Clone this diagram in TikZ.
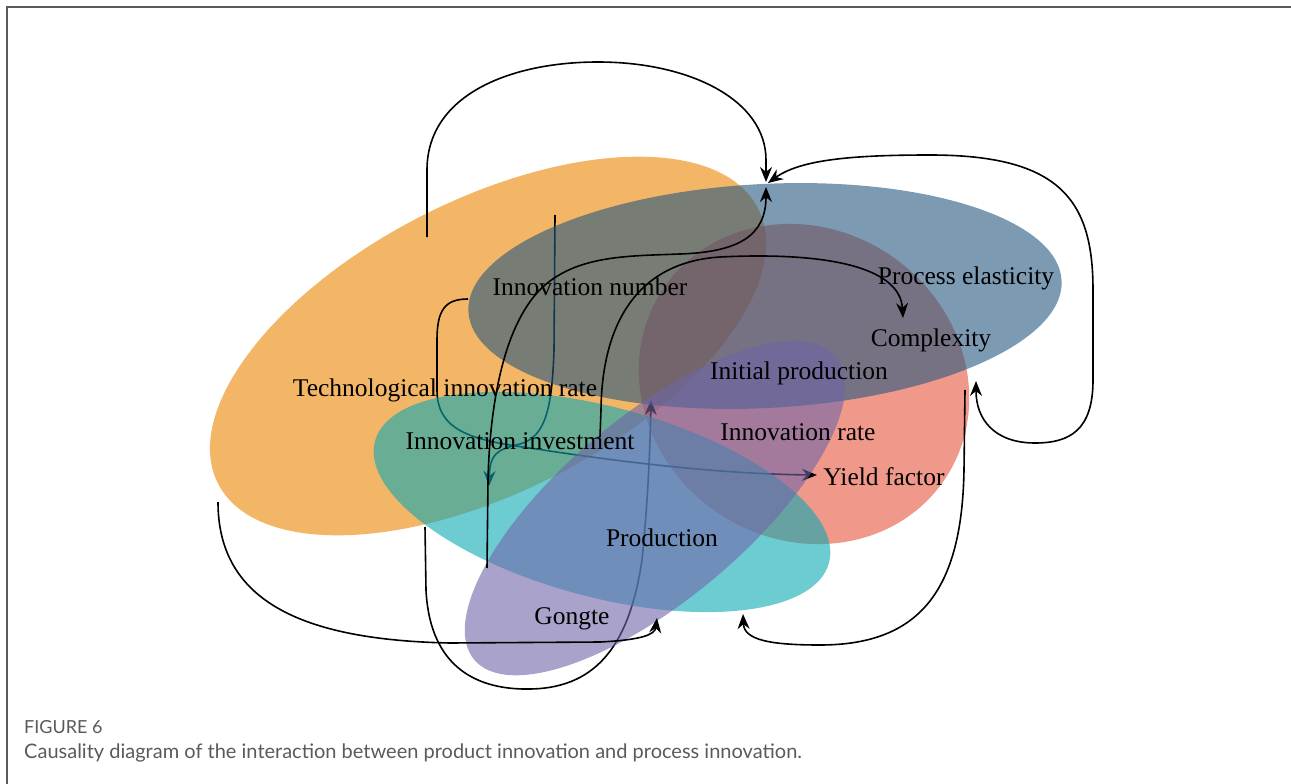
\documentclass[tikz,border=0pt]{standalone}
\usepackage{fontspec}
\setmainfont{Liberation Serif}
\newfontfamily\capfont{Lato}
\usetikzlibrary{arrows.meta}

\definecolor{techorange}{HTML}{EB8400}
\definecolor{procblue}{HTML}{255880}
\definecolor{ratered}{HTML}{E6553C}
\definecolor{investcyan}{HTML}{0CA8B4}
\definecolor{prodpurple}{HTML}{7066A8}
\definecolor{framegray}{HTML}{5A5A5A}

\tikzset{
  conn/.style={line width=1.6pt, -{Stealth[length=15pt,width=12pt]}},
  blob/.style={fill opacity=0.6},
  lbl/.style={font=\fontsize{25.5}{30}\selectfont, inner sep=0pt},
}

\begin{document}
\begin{tikzpicture}[x=1pt,y=-1pt]
        \useasboundingbox (0,0) rectangle (1291,784);
        \draw[framegray, line width=1.5pt] (7,784) -- (7,7) -- (1291,7);

        % End points of the connectors
        \coordinate (topA) at (427,237);
        \coordinate (hubA) at (766,182);
        \coordinate (hubB) at (768,183);
        \coordinate (hubC) at (766,187);
        \coordinate (elast) at (976,381);
        \coordinate (footC) at (487,568);
        \coordinate (footD) at (600,437);
        \coordinate (topE) at (555,215);
        \coordinate (tipE) at (489,486);
        \coordinate (leftF) at (468,299);
        \coordinate (footG) at (425,527);
        \coordinate (tipG) at (651,400);
        \coordinate (footH) at (218,502);
        \coordinate (tipH) at (657,618);
        \coordinate (footI) at (965,390);
        \coordinate (tipI) at (743,614);

        % Orange and red sets
        \fill[techorange, blob, rotate around={27:(488,346)}] (488,346) ellipse [x radius=303pt, y radius=146pt];
        \fill[ratered, blob, rotate around={-35:(804,384)}] (804,384) ellipse [x radius=170pt, y radius=155pt];

        % Connectors lying under the sets
        \draw[conn] (topE) -- (554,350) .. controls (552,410) and (545,437) .. (520,444) .. controls (495,450) and (490,455) .. (tipE);
        \draw[conn] (leftF) .. controls (445,299) and (437,310) .. (437,340) -- (437,390) .. controls (437,430) and (470,440) .. (530,448) .. controls (620,462) and (720,474) .. (817,475);
        \draw[conn] (footG) -- (426,590) .. controls (430,670) and (480,690) .. (530,689) .. controls (600,688) and (630,640) .. (642,560) .. controls (648,500) and (650,450) .. (tipG);

        % Other sets
        \fill[procblue, blob, rotate around={3:(765,296)}] (765,296) ellipse [x radius=297pt, y radius=112pt];
        \fill[investcyan, blob, rotate around={-15:(602,502)}] (602,502) ellipse [x radius=235pt, y radius=95pt];
        \fill[prodpurple, blob, rotate around={40:(655,508)}] (655,508) ellipse [x radius=236pt, y radius=92pt];

        % Connectors on top
        \draw[conn] (topA) -- (427,170) .. controls (427,95) and (510,62) .. (598,62) .. controls (690,62) and (766,100) .. (766,160) -- (hubA);
        \draw[line width=1.6pt, {Stealth[length=15pt,width=12pt]}-{Stealth[length=15pt,width=12pt]}] (hubB) .. controls (800,160) and (850,155) .. (930,155) .. controls (1060,155) and (1093,200) .. (1093,290) -- (1093,380) .. controls (1093,430) and (1070,443) .. (1035,443) .. controls (995,443) and (976,420) .. (elast);
        \draw[conn] (footC) -- (488,480) .. controls (490,400) and (505,320) .. (545,285) .. controls (580,255) and (630,256) .. (680,254) .. controls (740,252) and (766,235) .. (hubC);
        \draw[conn] (footD) -- (601,410) .. controls (602,320) and (640,262) .. (720,257) .. controls (820,252) and (900,265) .. (903,318);
        \draw[conn] (footH) .. controls (218,600) and (300,640) .. (450,643) -- (600,642) .. controls (640,640) and (655,635) .. (tipH);
        \draw[conn] (footI) -- (964,470) .. controls (962,590) and (920,645) .. (820,645) .. controls (770,645) and (744,640) .. (tipI);

        % Variable names
        \node[lbl] (innnum) at (590,287) {Innovation number};
        \node[lbl] (elasticity) at (966,278) {Process elasticity};
        \node[lbl] (complexity) at (931,340) {Complexity};
        \node[lbl] (initprod) at (799,373) {Initial production};
        \node[lbl] (techrate) at (445,390) {Technological innovation rate};
        \node[lbl] (investment) at (520,441) {Innovation investment};
        \node[lbl] (innrate) at (798,432) {Innovation rate};
        \node[lbl] (yield) at (884,477) {Yield factor};
        \node[lbl] (production) at (662,538) {Production};
        \node[lbl] (gongte) at (572,619) {Gongte};

        % Caption
        \node[anchor=west, inner sep=0pt, text=framegray, font=\capfont\fontsize{18}{20}\selectfont] (figno) at (24,727) {FIGURE 6};
        \node[anchor=west, inner sep=0pt, text=framegray, font=\capfont\fontsize{20}{24}\selectfont] (caption) at (24,753) {Causality diagram of the interaction between product innovation and process innovation.};
    \end{tikzpicture}
\end{document}
